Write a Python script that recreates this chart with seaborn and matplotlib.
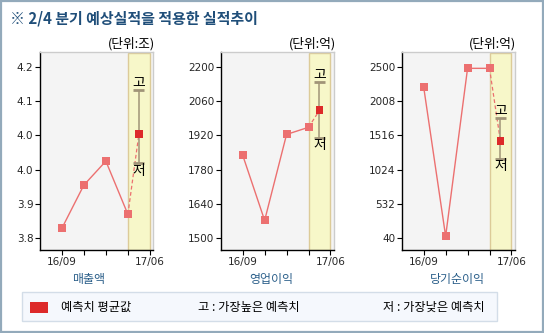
import matplotlib
matplotlib.use("Agg")
import matplotlib.pyplot as plt
import seaborn as sns
from matplotlib.patches import Rectangle

sns.set_theme(style="white")
plt.rcParams['font.family'] = ['Noto Sans CJK KR', 'DejaVu Sans']
plt.rcParams['axes.unicode_minus'] = False

# ---------------- data ----------------
title = "※ 2/4 분기 예상실적을 적용한 실적추이"
x_tick_labels = ["16/09", "", "", "", "17/06"]
actual_x = [0, 1, 2, 3]
forecast_x = 3.5

panel_names = ["매출액", "영업이익", "당기순이익"]
panel_units = ["(단위:조)", "(단위:억)", "(단위:억)"]

sales_actual = [3.823, 3.924, 3.980, 3.856]
sales_forecast = 4.043
sales_high = 4.146
sales_low = 3.976
sales_yticks = [3.80, 3.88, 3.96, 4.04, 4.12, 4.20]
sales_yticklabels = ["3.8", "3.9", "4.0", "4.0", "4.1", "4.2"]

op_actual = [1839, 1573, 1924, 1953]
op_forecast = 2022
op_high = 2138
op_low = 1911
op_yticks = [1500, 1640, 1780, 1920, 2060, 2200]
op_yticklabels = ["1500", "1640", "1780", "1920", "2060", "2200"]

net_actual = [2206, 69, 2478, 2478]
net_forecast = 1431
net_high = 1766
net_low = 1182
net_yticks = [40, 532, 1024, 1516, 2008, 2500]
net_yticklabels = ["40", "532", "1024", "1516", "2008", "2500"]

legend_items = ["예측치 평균값", "고 : 가장높은 예측치", "저 : 가장낮은 예측치"]

# ---------------- style ----------------
W, H = 544, 333
LINE_C = "#ec7070"
FC_C = "#dd2a2a"
ERR_C = "#a09478"
BAND_FC = "#f7f7c9"
BAND_EC = "#dccb98"
BG = "#f4f4f4"
LABEL_C = "#2b5f8a"
TITLE_C = "#1f4e79"

fig = plt.figure(figsize=(W / 100, H / 100), dpi=100)
fig.patch.set_facecolor("white")


def fx(px):
    return px / W


def fy(py):
    return 1 - py / H


# outer frame
fig.patches.append(Rectangle((fx(0.8), fy(332.2)), fx(542.4), (331.4) / H,
                             transform=fig.transFigure, fill=False,
                             edgecolor="#93aabb", linewidth=1.6, zorder=0))

fig.text(fx(10), fy(18), title, fontsize=10.8, fontweight="bold",
         color=TITLE_C, ha="left", va="center")

panels = [
    (40, 153, sales_actual, sales_forecast, sales_high, sales_low,
     sales_yticks, sales_yticklabels, 89),
    (221, 333.5, op_actual, op_forecast, op_high, op_low,
     op_yticks, op_yticklabels, 271.5),
    (402, 514.5, net_actual, net_forecast, net_high, net_low,
     net_yticks, net_yticklabels, 457.5),
]

top_px, bot_px = 52.3, 250
for i, (l, r, act, fc, hi, lo, yt, ytl, lab_x) in enumerate(panels):
    ax = fig.add_axes([fx(l), fy(bot_px), (r - l) / W, (bot_px - top_px) / H])
    ax.set_facecolor(BG)
    step = yt[1] - yt[0]
    px_per_step = 34.3
    y0 = yt[0] - (bot_px - 238.3) / px_per_step * step
    y1 = yt[0] + (238.3 - top_px) / px_per_step * step
    ax.set_ylim(y0, y1)
    ax.set_xlim(-0.99, 4.14)

    ax.axvspan(3, 4, ymin=0, ymax=0.994, facecolor=BAND_FC,
               edgecolor=BAND_EC, linewidth=1.0, zorder=1)

    sns.lineplot(x=[actual_x[-1], forecast_x], y=[act[-1], fc], ax=ax,
                 color=LINE_C, linewidth=0.9, linestyle=(0, (3, 2)), zorder=2)
    sns.lineplot(x=actual_x, y=act, ax=ax, color=LINE_C, linewidth=1.0,
                 marker="s", markersize=5.2, markeredgewidth=0, zorder=4)

    ax.vlines(forecast_x, lo, hi, color=ERR_C, linewidth=1.1, zorder=3)
    ax.hlines([lo, hi], forecast_x - 0.25, forecast_x + 0.25, color=ERR_C,
              linewidth=2.0, zorder=3)
    sns.scatterplot(x=[forecast_x], y=[fc], ax=ax, marker="s", s=32,
                    color=FC_C, edgecolor="none", linewidth=0, zorder=6)

    ax.annotate("고", (forecast_x, hi), xytext=(0, 0),
                textcoords="offset points", ha="center", va="bottom",
                fontsize=10, color="black", zorder=7)
    ax.annotate("저", (forecast_x, lo), xytext=(0, -0.5),
                textcoords="offset points", ha="center", va="top",
                fontsize=10, color="black", zorder=7)

    ax.set_xticks([0, 1, 2, 3, 4])
    ax.set_xticklabels(x_tick_labels, fontsize=7.5, family="DejaVu Sans")
    ax.set_yticks(yt)
    ax.set_yticklabels(ytl, fontsize=7.5, family="DejaVu Sans")
    ax.tick_params(axis="both", which="both", direction="out", length=3.6,
                   width=0.8, color="black", pad=1.2, left=True, bottom=True)
    ax.set_xlabel("")
    ax.set_ylabel("")
    for s in ["left", "bottom"]:
        ax.spines[s].set_color("black")
        ax.spines[s].set_linewidth(1.0)
    for s in ["top", "right"]:
        ax.spines[s].set_color("#cccccc")
        ax.spines[s].set_linewidth(1.0)

    fig.text(fx(r + 2), fy(44), panel_units[i], fontsize=9.2,
             ha="right", va="center", color="black")
    fig.text(fx(lab_x), fy(280), panel_names[i], fontsize=8.6,
             ha="center", va="center", color=LABEL_C)

# legend box
fig.patches.append(Rectangle((fx(22), fy(321.3)), (497 - 22) / W, (321.3 - 292.3) / H,
                             transform=fig.transFigure, facecolor="#f5f8fd",
                             edgecolor="#d3dde8", linewidth=1.0, zorder=0))
fig.patches.append(Rectangle((fx(30), fy(313.3)), 17.7 / W, 11.6 / H,
                             transform=fig.transFigure, facecolor=FC_C,
                             edgecolor="none", zorder=1))
for txt, xpos in zip(legend_items, [61, 198, 383]):
    fig.text(fx(xpos), fy(307), txt, fontsize=8.8, ha="left", va="center",
             color="black")

fig.savefig("out.png", dpi=100)
